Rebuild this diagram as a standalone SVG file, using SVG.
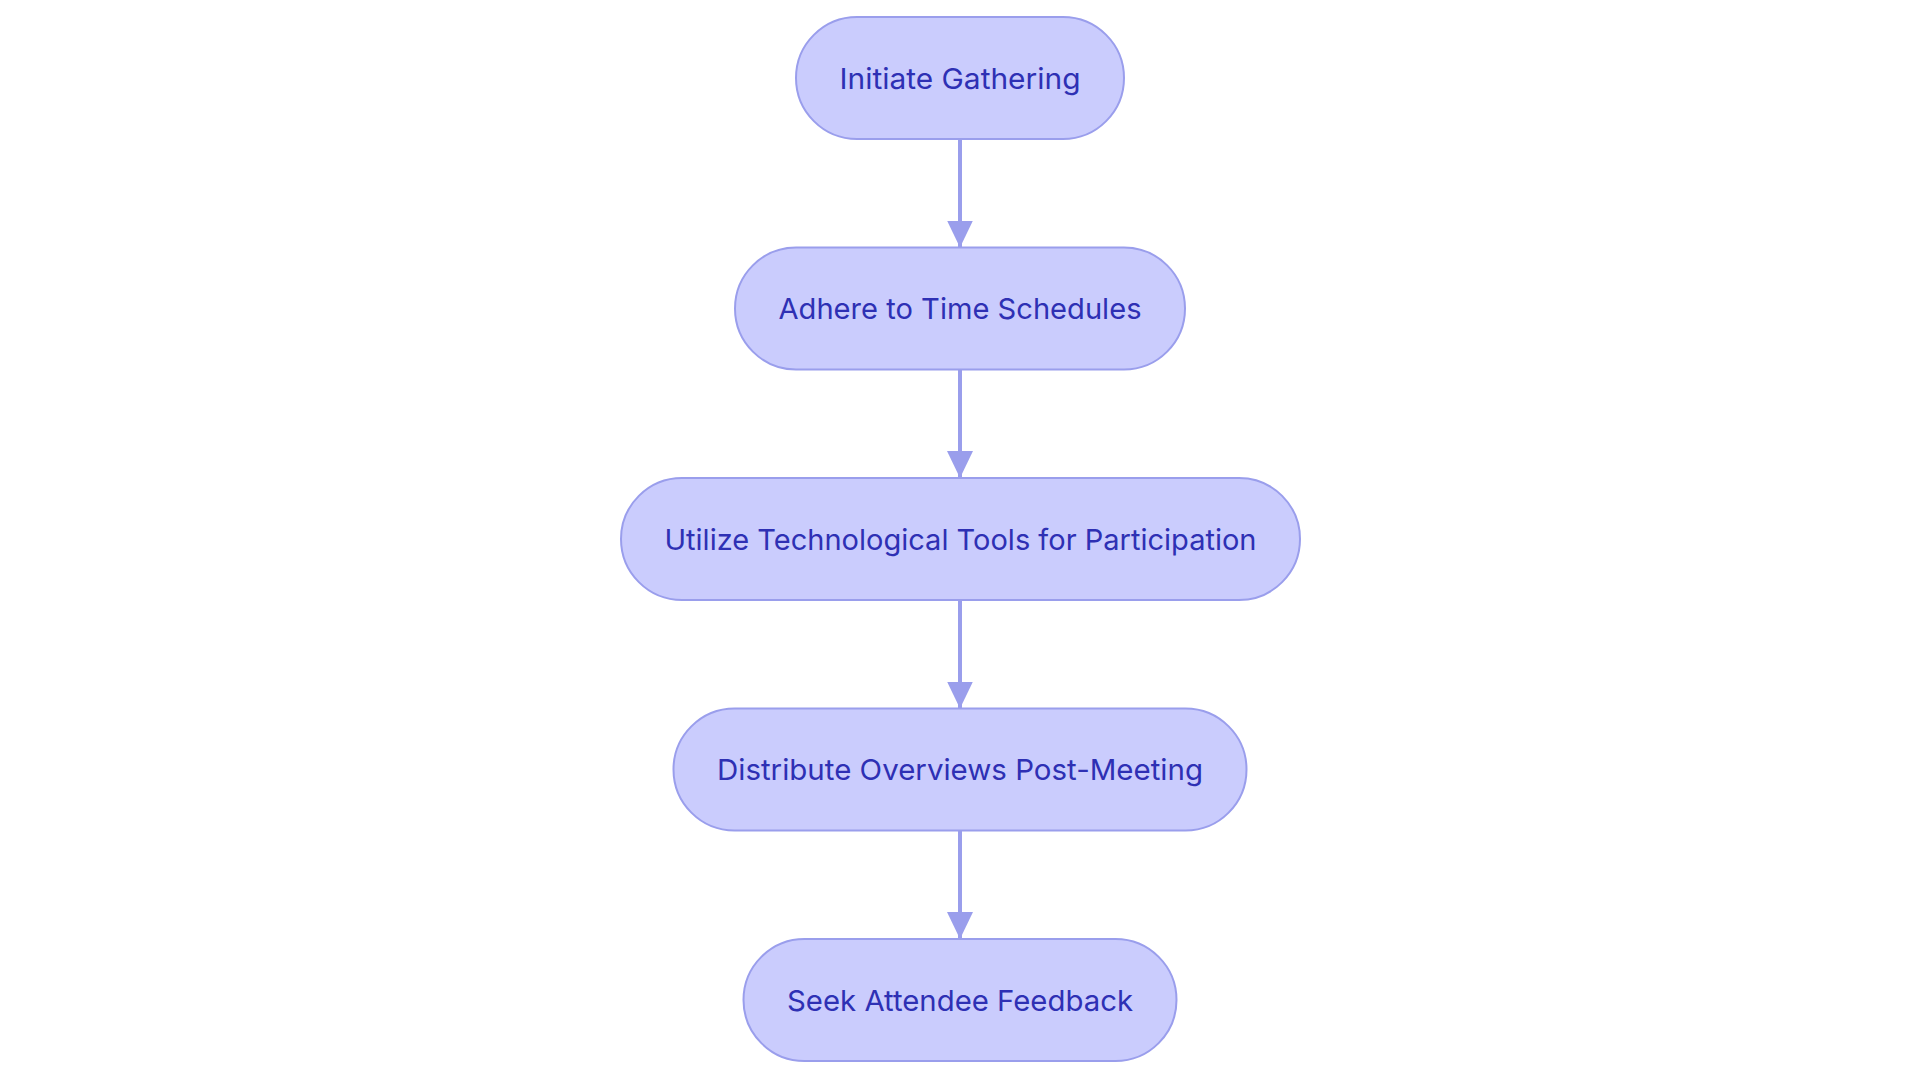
<svg xmlns="http://www.w3.org/2000/svg" width="1920" height="1080" viewBox="0 0 1920 1080">
<style>
.node rect{fill:#CACCFD;stroke:#9A9EEC;stroke-width:2}
.node text{font-family:Inter,"Noto Sans","Liberation Sans",sans-serif;font-size:29px;fill:#2E30B4;text-anchor:middle}
.edge{stroke:#9A9EEC;stroke-width:4;fill:none}
</style>
<defs>
<marker id="arrow" viewBox="0 0 27 26" refX="27" refY="13" markerWidth="27" markerHeight="26" markerUnits="userSpaceOnUse" orient="auto">
<path d="M0,0 L27,13 L0,26 Z" fill="#9A9EEC"/>
</marker>
</defs>
<rect width="1920" height="1080" fill="#ffffff"/>
<g id="connectors">
<line class="edge" x1="960" y1="139" x2="960" y2="247.5" marker-end="url(#arrow)"/>
<line class="edge" x1="960" y1="369.5" x2="960" y2="478" marker-end="url(#arrow)"/>
<line class="edge" x1="960" y1="600" x2="960" y2="708.5" marker-end="url(#arrow)"/>
<line class="edge" x1="960" y1="830.5" x2="960" y2="939" marker-end="url(#arrow)"/>
</g>
<g id="node1" class="node">
<rect x="796" y="17" width="328" height="122" rx="61" ry="61"/>
<text x="960" y="88.5" textLength="241" lengthAdjust="spacingAndGlyphs">Initiate Gathering</text>
</g>
<g id="node2" class="node">
<rect x="735" y="247.5" width="450" height="122" rx="61" ry="61"/>
<text x="960" y="319" textLength="363" lengthAdjust="spacingAndGlyphs">Adhere to Time Schedules</text>
</g>
<g id="node3" class="node">
<rect x="621" y="478" width="679" height="122" rx="61" ry="61"/>
<text x="960.5" y="549.5" textLength="592" lengthAdjust="spacingAndGlyphs">Utilize Technological Tools for Participation</text>
</g>
<g id="node4" class="node">
<rect x="673.5" y="708.5" width="573" height="122" rx="61" ry="61"/>
<text x="960" y="780" textLength="486" lengthAdjust="spacingAndGlyphs">Distribute Overviews Post-Meeting</text>
</g>
<g id="node5" class="node">
<rect x="743.5" y="939" width="433" height="122" rx="61" ry="61"/>
<text x="960" y="1010.5" textLength="346" lengthAdjust="spacingAndGlyphs">Seek Attendee Feedback</text>
</g>
</svg>
